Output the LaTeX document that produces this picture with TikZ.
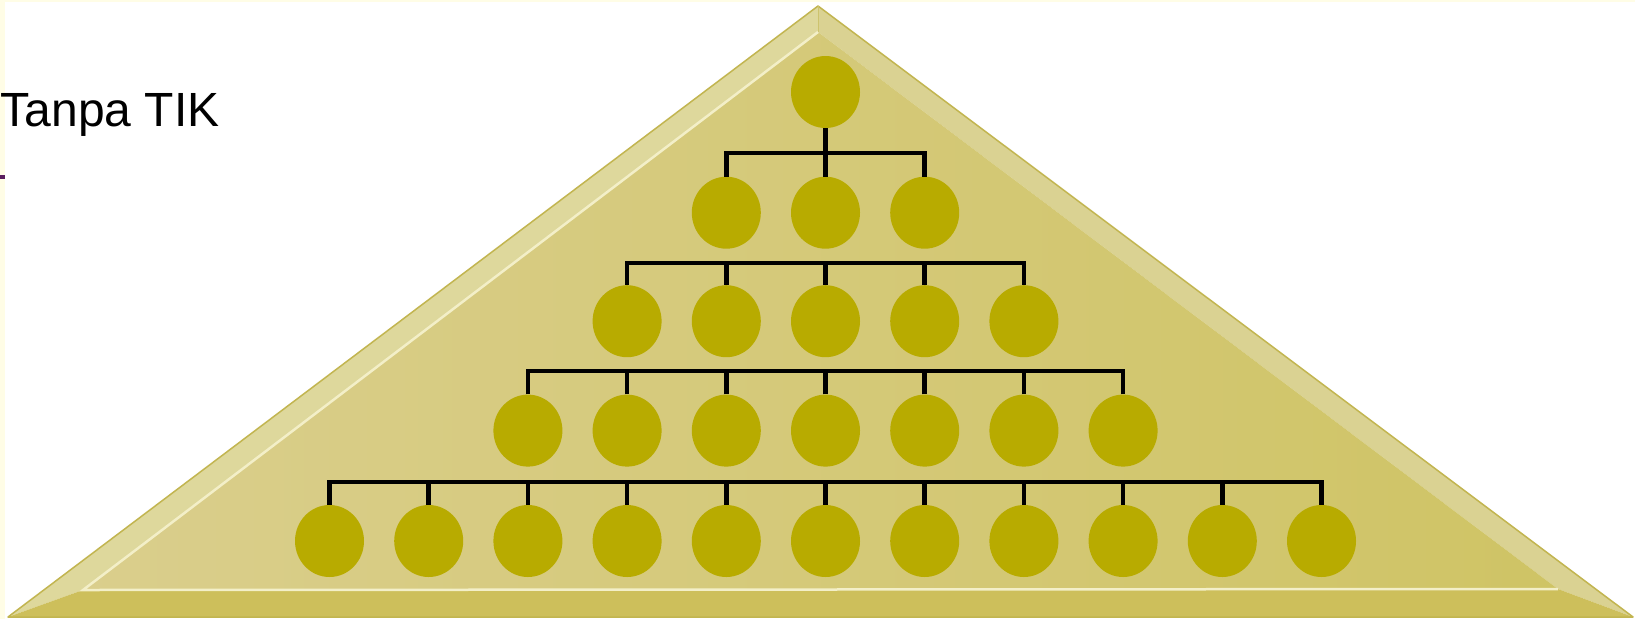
\documentclass[tikz,border=0pt]{standalone}
\usepackage{fontspec}
\setmainfont{Liberation Sans}
\usetikzlibrary{shapes.geometric}
\definecolor{dotc}{HTML}{B8AB00}
\definecolor{leftface}{HTML}{DED89C}
\definecolor{rightface}{HTML}{DAD292}
\definecolor{bottomface}{HTML}{CDBF5B}
\definecolor{innerL}{HTML}{DACE8C}
\definecolor{innerR}{HTML}{CFC465}
\definecolor{edgec}{HTML}{C2B550}
\definecolor{hilite}{HTML}{F3EFC8}
\definecolor{cream}{HTML}{FFFDE6}
\definecolor{tick}{HTML}{5A1E5E}
\begin{document}
\begin{tikzpicture}[x=1pt,y=-1pt,
  dot/.style={ellipse,fill=dotc,draw=none,minimum width=69pt,minimum height=72pt,inner sep=0pt},
  conn/.style={draw=black,line width=4.5pt}]
\useasboundingbox (0,0) rectangle (1635,619);
\fill[white] (0,0) rectangle (1635,619);
% frame strips
\fill[cream] (0,0) rectangle (5,619);
\fill[cream] (0,0) rectangle (1635,2);
\fill[tick] (0,175) rectangle (5,179);
% title
\node[anchor=base west,inner sep=0pt,font=\fontsize{48}{58}\selectfont] (title) at (0.5,126.7) {Tanpa TIK};
% pyramid
\coordinate (A) at (818,6);
\coordinate (BL) at (8,617);
\coordinate (BR) at (1633,617);
\coordinate (a) at (818,32);
\coordinate (bl) at (83,590);
\coordinate (br) at (1558,589);
\fill[leftface] (A) -- (a) -- (bl) -- (BL) -- cycle;
\fill[rightface] (A) -- (BR) -- (br) -- (a) -- cycle;
\fill[bottomface] (BL) -- (bl) -- (br) -- (BR) -- cycle;
\shade[left color=innerL,right color=innerR] (a) -- (bl) -- (br) -- cycle;
\draw[hilite,line width=2.5pt] (a) -- (bl) -- (br);
\draw[edgec,line width=1.5pt,line join=round] (A) -- (BL) -- (BR) -- cycle;
\draw[edgec!60!leftface,line width=0.8pt] (A) -- (a);
% nodes
\foreach \r/\n/\y in {1/1/92,2/3/212.7,3/5/321.2,4/7/430.6,5/11/541}{
  \foreach \i in {1,...,\n}{
    \node[dot] (n\r-\i) at ({825.5+(\i-(\n+1)/2)*99.2},\y) {};
  }
}
% junctions
\coordinate (j1) at (825.5,153);
\coordinate (j2) at (825.5,263);
\coordinate (j3) at (825.5,371);
\coordinate (j4) at (825.5,482);
\draw[conn] (n1-1.south) -- (j1);
\foreach \i in {1,...,3}{\draw[conn] (n2-\i.north) |- (j1);}
\foreach \i in {1,...,5}{\draw[conn] (n3-\i.north) |- (j2);}
\foreach \i in {1,...,7}{\draw[conn] (n4-\i.north) |- (j3);}
\foreach \i in {1,...,11}{\draw[conn] (n5-\i.north) |- (j4);}
\end{tikzpicture}
\end{document}
